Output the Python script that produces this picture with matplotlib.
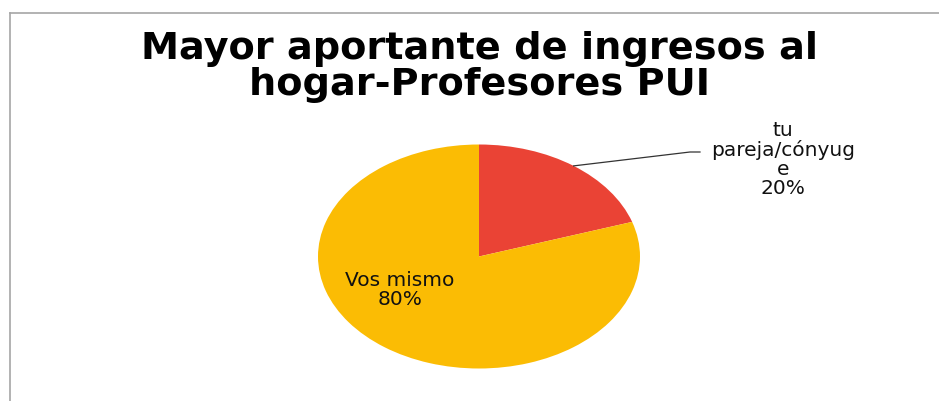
import numpy as np
import matplotlib
matplotlib.use("Agg")
import matplotlib.pyplot as plt

# datos
categorias = ["tu\npareja/cónyug\ne", "Vos mismo"]
valores = [20, 80]
colores = ["#EA4335", "#FBBC04"]
titulo = "Mayor aportante de ingresos al\nhogar-Profesores PUI"

W, H = 939, 401
cx, cy = 479, 256.5      # centro de la torta (px, desde arriba)
rx, ry = 161, 112        # la torta esta estirada en horizontal

plt.rcParams['font.family'] = ['DejaVu Sans']

fig = plt.figure(figsize=(W/100, H/100), dpi=100)
fig.patch.set_facecolor("white")

def fx(x):
	return x/W
def fy(y):
	return 1 - y/H

ax = fig.add_axes([0, 0, 1, 1])
wedges, _ = ax.pie(valores, colors=colores, startangle=90, counterclock=False,
	radius=1, wedgeprops=dict(linewidth=0))
ax.set_aspect('auto')
ax.set_xlim(-cx/rx, (W-cx)/rx)
ax.set_ylim(-(H-cy)/ry, cy/ry)
ax.axis('off')

total = sum(valores)
pct = [v*100.0/total for v in valores]

# etiqueta "Vos mismo" dentro de la torta
ax.text(fx(400), fy(290), "%s\n%d%%" % (categorias[1], pct[1]), transform=fig.transFigure,
	ha='center', va='center', fontsize=14.5, linespacing=1.05, color="#111111")

# etiqueta de la pareja con linea guia
w = wedges[0]
ang = np.deg2rad((w.theta1 + w.theta2)/2)
x0, y0 = np.cos(ang), np.sin(ang)
pts = ax.transData.inverted().transform(fig.transFigure.transform([[fx(690), fy(152)], [fx(700), fy(152)]]))
ax.plot([x0, pts[0][0], pts[1][0]], [y0, pts[0][1], pts[1][1]], color="#333333", lw=0.9)
fig.text(fx(783), fy(159), "%s\n%d%%" % (categorias[0], pct[0]),
	ha='center', va='center', fontsize=14.5, linespacing=1.0, color="#111111")

# titulo
fig.text(fx(479), fy(31), titulo, ha='center', va='top', fontsize=27.5,
	fontweight='bold', linespacing=1.0, color="black")

# marco del grafico
fig.add_artist(plt.Line2D([fx(10), fx(10)], [fy(13), 0], transform=fig.transFigure, color="#a6a6a6", lw=1.2))
fig.add_artist(plt.Line2D([fx(10), 1], [fy(13), fy(13)], transform=fig.transFigure, color="#a6a6a6", lw=1.2))

fig.savefig("out.png", dpi=100)
